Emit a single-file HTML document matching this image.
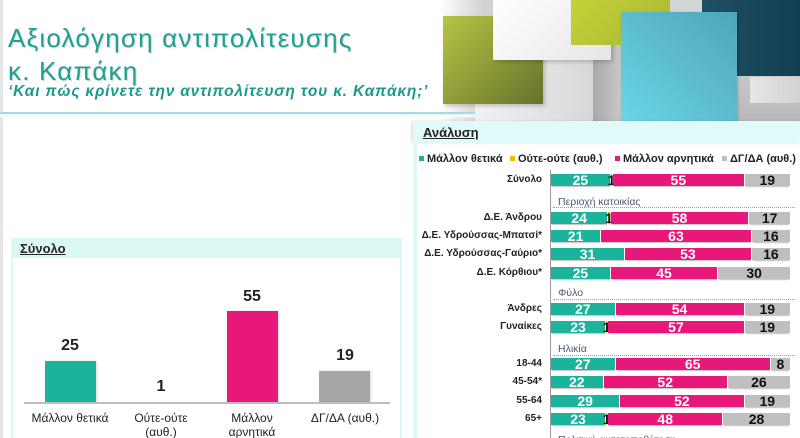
<!DOCTYPE html>
<html>
<head>
<meta charset="utf-8">
<style>
*{margin:0;padding:0;box-sizing:border-box;}
html,body{width:800px;height:438px;overflow:hidden;background:#fff;}
#root{position:relative;width:800px;height:438px;overflow:hidden;background:#fff;font-family:"Liberation Sans","DejaVu Sans",sans-serif;color:#222;}
.abs{position:absolute;}
.title{position:absolute;left:8px;font-size:26px;line-height:26px;color:#1ea192;letter-spacing:1.2px;white-space:nowrap;text-shadow:1px 1px 1px rgba(0,0,0,0.18);}
.sub{position:absolute;left:8px;top:84px;font-size:15.5px;line-height:15px;font-style:italic;font-weight:bold;color:#1c9a8c;letter-spacing:0.8px;white-space:nowrap;}
.val{position:absolute;width:60px;margin-left:-30px;text-align:center;font-weight:bold;font-size:16px;line-height:16px;color:#222;}
.cat{position:absolute;width:110px;margin-left:-55px;text-align:center;font-size:12px;line-height:14px;color:#222;top:411px;}
.lbl{position:absolute;right:258px;font-weight:bold;font-size:10px;line-height:12px;color:#222;white-space:nowrap;text-align:right;}
.bar{position:absolute;left:551px;width:239px;height:12px;display:flex;}
.bar div{height:12px;display:flex;align-items:center;justify-content:center;font-weight:bold;font-size:14px;color:#fff;white-space:nowrap;overflow:visible;border-right:1px solid #fff;box-shadow:0 2px 1px -1px rgba(0,0,0,0.25);}
.bar div:last-child{border-right:none;}
.t{background:#1bb39c;}
.y{background:#f5b800;color:#111 !important;}
.p{background:#e8177a;}
.g{background:#bfbfbf;color:#111 !important;}
.sec{position:absolute;left:558px;font-size:10.5px;line-height:12px;color:#4d5a75;white-space:nowrap;}
.dot{position:absolute;left:553px;width:242px;height:0;border-top:1px dotted #9a9a9a;}
.leg{position:absolute;top:153px;font-size:11px;line-height:12px;font-weight:bold;color:#222;white-space:nowrap;}
.sq{position:absolute;top:156px;width:5px;height:5px;}
</style>
</head>
<body>
<div id="root">
  <div class="abs" style="left:0;top:0;width:3px;height:438px;background:#e6e6e6;"></div>

  <div class="abs" style="left:440px;top:0;width:360px;height:121px;background:linear-gradient(90deg,#fff 0,#d2d2d2 12%,#dcdcdc 50%,#c4c4c4 100%);"></div>
  <div class="abs" style="left:475px;top:60px;width:118px;height:61px;background:linear-gradient(90deg,#f2f2f2,#d8d8d8);"></div>
  <div class="abs" style="left:593px;top:45px;width:28px;height:76px;background:linear-gradient(90deg,#a8a8a8,#c8c8c8);"></div>
  <div class="abs" style="left:443px;top:16px;width:100px;height:88px;background:linear-gradient(135deg,#b7c445 0%,#8f9b38 50%,#66712d 100%);box-shadow:2px 2px 4px rgba(0,0,0,0.2);"></div>
  <div class="abs" style="left:493px;top:0;width:118px;height:60px;background:linear-gradient(135deg,#ffffff,#e6e6e6);box-shadow:2px 2px 4px rgba(0,0,0,0.2);"></div>
  <div class="abs" style="left:571px;top:0;width:99px;height:45px;background:linear-gradient(135deg,#c4d238,#a8b832);"></div>
  <div class="abs" style="left:670px;top:0;width:32px;height:12px;background:#d5d5d5;"></div>
  <div class="abs" style="left:702px;top:0;width:98px;height:76px;background:linear-gradient(90deg,#1f5064,#123e50);"></div>
  <div class="abs" style="left:737px;top:76px;width:63px;height:45px;background:linear-gradient(180deg,#c8c8c8,#b8b8b8);"></div>
  <div class="abs" style="left:750px;top:77px;width:50px;height:26px;background:linear-gradient(90deg,#e6e6e6,#d2d2d2);"></div>
  <div class="abs" style="left:621px;top:12px;width:116px;height:109px;background:linear-gradient(to top right,#6ad6e5,#5ab8ca 60%,#4fa6ba);box-shadow:1px 1px 3px rgba(0,0,0,0.2);"></div>

  <div class="abs" style="left:0;top:112px;width:475px;height:2px;background:#a6d9e2;"></div>
  <div class="abs" style="left:0;top:114px;width:475px;height:3px;background:linear-gradient(180deg,#e4f2f4,#fff);"></div>

  <div class="title" style="top:25px;">Αξιολόγηση αντιπολίτευσης</div>
  <div class="title" style="top:58px;">κ. Καπάκη</div>
  <div class="sub">‘Και πώς κρίνετε την αντιπολίτευση του κ. Καπάκη;’</div>

  <div class="abs" style="left:11px;top:238px;width:391px;height:20px;background:#dcf8f5;"></div>
  <div class="abs" style="left:11px;top:258px;width:2px;height:180px;background:#dcf8f5;"></div>
  <div class="abs" style="left:400px;top:258px;width:2px;height:180px;background:#dcf8f5;"></div>
  <div class="abs" style="left:20px;top:241px;font-size:13px;line-height:15px;font-weight:bold;text-decoration:underline;color:#222;">Σύνολο</div>

  <div class="abs" style="left:45px;top:361px;width:51px;height:42px;background:#1ab39c;box-shadow:1px 0 2px rgba(0,0,0,0.15);"></div>
  <div class="abs" style="left:227px;top:311px;width:51px;height:92px;background:#e8177a;box-shadow:1px 0 2px rgba(0,0,0,0.15);"></div>
  <div class="abs" style="left:319px;top:371px;width:51px;height:32px;background:#a6a6a6;box-shadow:1px 0 2px rgba(0,0,0,0.15);"></div>
  <div class="abs" style="left:24px;top:402px;width:366px;height:2px;background:#bdbdbd;"></div>

  <div class="val" style="left:70px;top:338px;">25</div>
  <div class="val" style="left:161px;top:379px;">1</div>
  <div class="val" style="left:252px;top:289px;">55</div>
  <div class="val" style="left:345px;top:348px;">19</div>

  <div class="cat" style="left:70px;">Μάλλον θετικά</div>
  <div class="cat" style="left:161px;">Ούτε-ούτε<br>(αυθ.)</div>
  <div class="cat" style="left:252px;">Μάλλον<br>αρνητικά</div>
  <div class="cat" style="left:345px;">ΔΓ/ΔΑ (αυθ.)</div>

  <div class="abs" style="left:413px;top:121px;width:387px;height:22px;background:#dffaf8;box-shadow:-2px 0 3px rgba(0,0,0,0.12);"></div>
  <div class="abs" style="left:413px;top:143px;width:4px;height:295px;background:#dff7f5;"></div>
  <div class="abs" style="left:423px;top:125px;font-size:13px;line-height:15px;font-weight:bold;text-decoration:underline;color:#222;">Ανάλυση</div>

  <div class="sq" style="left:419px;background:#1bb39c;"></div>
  <div class="leg" style="left:427px;">Μάλλον θετικά</div>
  <div class="sq" style="left:510px;background:#f5b800;"></div>
  <div class="leg" style="left:518px;">Ούτε-ούτε (αυθ.)</div>
  <div class="sq" style="left:615px;background:#e8177a;"></div>
  <div class="leg" style="left:623px;">Μάλλον αρνητικά</div>
  <div class="sq" style="left:722px;background:#bfbfbf;"></div>
  <div class="leg" style="left:730px;">ΔΓ/ΔΑ (αυθ.)</div>

  <div class="abs" style="left:550px;top:170px;width:1px;height:268px;background:#9a9a9a;"></div>

  <div class="sec" style="top:196px;">Περιοχή κατοικίας</div>
  <div class="dot" style="top:207px;"></div>
  <div class="sec" style="top:287px;">Φύλο</div>
  <div class="dot" style="top:299px;"></div>
  <div class="sec" style="top:343px;">Ηλικία</div>
  <div class="dot" style="top:355px;"></div>
  <div class="sec" style="top:434px;">Πολιτική αυτοτοποθέτηση</div>

  <div class="lbl" style="top:174px;">Σύνολο</div>
  <div class="lbl" style="top:212px;">Δ.Ε. Άνδρου</div>
  <div class="lbl" style="top:230px;">Δ.Ε. Υδρούσσας-Μπατσί*</div>
  <div class="lbl" style="top:248px;">Δ.Ε. Υδρούσσας-Γαύριο*</div>
  <div class="lbl" style="top:267px;">Δ.Ε. Κόρθιου*</div>
  <div class="lbl" style="top:303px;">Άνδρες</div>
  <div class="lbl" style="top:321px;">Γυναίκες</div>
  <div class="lbl" style="top:358px;">18-44</div>
  <div class="lbl" style="top:376px;">45-54*</div>
  <div class="lbl" style="top:395px;">55-64</div>
  <div class="lbl" style="top:413px;">65+</div>

  <div class="bar" style="top:174px;"><div class="t" style="width:25%">25</div><div class="y" style="width:1%">1</div><div class="p" style="width:55%">55</div><div class="g" style="width:19%">19</div></div>
  <div class="bar" style="top:212px;"><div class="t" style="width:24%">24</div><div class="y" style="width:1%">1</div><div class="p" style="width:58%">58</div><div class="g" style="width:17%">17</div></div>
  <div class="bar" style="top:230px;"><div class="t" style="width:21%">21</div><div class="p" style="width:63%">63</div><div class="g" style="width:16%">16</div></div>
  <div class="bar" style="top:248px;"><div class="t" style="width:31%">31</div><div class="p" style="width:53%">53</div><div class="g" style="width:16%">16</div></div>
  <div class="bar" style="top:267px;"><div class="t" style="width:25%">25</div><div class="p" style="width:45%">45</div><div class="g" style="width:30%">30</div></div>
  <div class="bar" style="top:303px;"><div class="t" style="width:27%">27</div><div class="p" style="width:54%">54</div><div class="g" style="width:19%">19</div></div>
  <div class="bar" style="top:321px;"><div class="t" style="width:23%">23</div><div class="y" style="width:1%">1</div><div class="p" style="width:57%">57</div><div class="g" style="width:19%">19</div></div>
  <div class="bar" style="top:358px;"><div class="t" style="width:27%">27</div><div class="p" style="width:65%">65</div><div class="g" style="width:8%">8</div></div>
  <div class="bar" style="top:376px;"><div class="t" style="width:22%">22</div><div class="p" style="width:52%">52</div><div class="g" style="width:26%">26</div></div>
  <div class="bar" style="top:395px;"><div class="t" style="width:29%">29</div><div class="p" style="width:52%">52</div><div class="g" style="width:19%">19</div></div>
  <div class="bar" style="top:413px;"><div class="t" style="width:23%">23</div><div class="y" style="width:1%">1</div><div class="p" style="width:48%">48</div><div class="g" style="width:28%">28</div></div>
</div>
</body>
</html>
